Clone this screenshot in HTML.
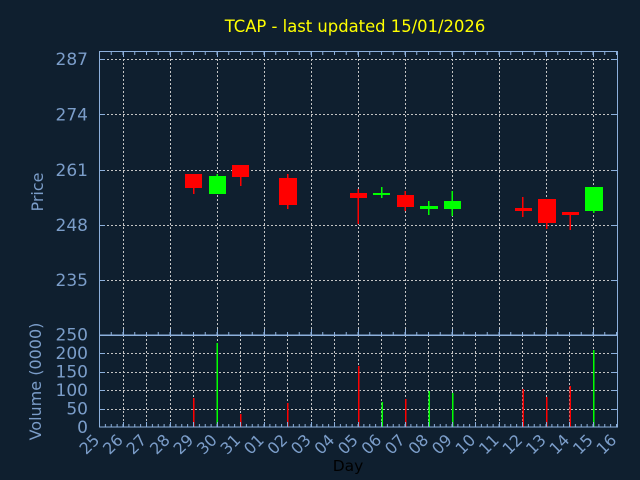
<!DOCTYPE html>
<html>
<head>
<meta charset="utf-8">
<style>
html,body{margin:0;padding:0;background:#0f1f2f;}
svg{display:block;}
text{font-family:"DejaVu Sans","Liberation Sans",sans-serif;}
</style>
</head>
<body>
<svg width="640" height="480" viewBox="0 0 640 480" xmlns="http://www.w3.org/2000/svg">
<defs>
  <pattern id="tkTop" patternUnits="userSpaceOnUse" x="99" y="0" width="11.75" height="480">
    <rect x="0" y="0" width="1" height="480" fill="#8db0dc"/>
  </pattern>
  <pattern id="tkBot" patternUnits="userSpaceOnUse" x="99" y="0" width="5.875" height="480">
    <rect x="0" y="0" width="1" height="480" fill="#8db0dc"/>
  </pattern>
</defs>
<rect width="640" height="480" fill="#0f1f2f"/>

<!-- Title -->
<text x="355" y="32" font-size="16.4" fill="#ffff00" text-anchor="middle">TCAP - last updated 15/01/2026</text>

<!-- Price grid -->
<g stroke="#c4c4c4" stroke-width="1" stroke-dasharray="2,2" shape-rendering="crispEdges">
  <line x1="99" y1="59.5" x2="617" y2="59.5"/>
  <line x1="99" y1="114.5" x2="617" y2="114.5"/>
  <line x1="99" y1="170.5" x2="617" y2="170.5"/>
  <line x1="99" y1="225.5" x2="617" y2="225.5"/>
  <line x1="99" y1="280.5" x2="617" y2="280.5"/>
  <line x1="123.5" y1="51" x2="123.5" y2="335"/>
  <line x1="170.5" y1="51" x2="170.5" y2="335"/>
  <line x1="217.5" y1="51" x2="217.5" y2="335"/>
  <line x1="264.5" y1="51" x2="264.5" y2="335"/>
  <line x1="311.5" y1="51" x2="311.5" y2="335"/>
  <line x1="358.5" y1="51" x2="358.5" y2="335"/>
  <line x1="405.5" y1="51" x2="405.5" y2="335"/>
  <line x1="452.5" y1="51" x2="452.5" y2="335"/>
  <line x1="499.5" y1="51" x2="499.5" y2="335"/>
  <line x1="546.5" y1="51" x2="546.5" y2="335"/>
  <line x1="593.5" y1="51" x2="593.5" y2="335"/>
</g>

<!-- Volume grid -->
<g stroke="#c4c4c4" stroke-width="1" stroke-dasharray="2,2" shape-rendering="crispEdges">
  <line x1="99" y1="353.5" x2="617" y2="353.5"/>
  <line x1="99" y1="372.5" x2="617" y2="372.5"/>
  <line x1="99" y1="390.5" x2="617" y2="390.5"/>
  <line x1="99" y1="409.5" x2="617" y2="409.5"/>
  <line x1="123.5" y1="335" x2="123.5" y2="427"/>
  <line x1="146.5" y1="335" x2="146.5" y2="427"/>
  <line x1="170.5" y1="335" x2="170.5" y2="427"/>
  <line x1="193.5" y1="335" x2="193.5" y2="427"/>
  <line x1="217.5" y1="335" x2="217.5" y2="427"/>
  <line x1="240.5" y1="335" x2="240.5" y2="427"/>
  <line x1="264.5" y1="335" x2="264.5" y2="427"/>
  <line x1="287.5" y1="335" x2="287.5" y2="427"/>
  <line x1="311.5" y1="335" x2="311.5" y2="427"/>
  <line x1="334.5" y1="335" x2="334.5" y2="427"/>
  <line x1="358.5" y1="335" x2="358.5" y2="427"/>
  <line x1="381.5" y1="335" x2="381.5" y2="427"/>
  <line x1="405.5" y1="335" x2="405.5" y2="427"/>
  <line x1="428.5" y1="335" x2="428.5" y2="427"/>
  <line x1="452.5" y1="335" x2="452.5" y2="427"/>
  <line x1="475.5" y1="335" x2="475.5" y2="427"/>
  <line x1="499.5" y1="335" x2="499.5" y2="427"/>
  <line x1="522.5" y1="335" x2="522.5" y2="427"/>
  <line x1="546.5" y1="335" x2="546.5" y2="427"/>
  <line x1="569.5" y1="335" x2="569.5" y2="427"/>
  <line x1="593.5" y1="335" x2="593.5" y2="427"/>
</g>

<!-- Candles -->
<g shape-rendering="crispEdges">
  <!-- 29 red -->
  <rect x="193" y="174" width="1.5" height="20" fill="#ff0000"/>
  <rect x="185" y="174" width="17" height="14" fill="#ff0000"/>
  <!-- 30 green -->
  <rect x="216.5" y="174" width="1.5" height="20" fill="#00ff00"/>
  <rect x="209" y="176" width="17" height="18" fill="#00ff00"/>
  <!-- 31 red -->
  <rect x="240" y="165" width="1.5" height="21" fill="#ff0000"/>
  <rect x="232" y="165" width="17" height="12" fill="#ff0000"/>
  <!-- 02 red -->
  <rect x="287" y="174" width="1.5" height="35" fill="#ff0000"/>
  <rect x="279" y="178" width="18" height="27" fill="#ff0000"/>
  <!-- 05 red -->
  <rect x="357.5" y="189" width="1.5" height="35" fill="#ff0000"/>
  <rect x="350" y="193" width="17" height="5" fill="#ff0000"/>
  <!-- 06 green -->
  <rect x="381" y="187" width="1.5" height="11" fill="#00ff00"/>
  <rect x="373" y="193" width="17" height="2" fill="#00ff00"/>
  <!-- 07 red -->
  <rect x="404.5" y="191" width="1.5" height="20" fill="#ff0000"/>
  <rect x="397" y="195" width="17" height="12" fill="#ff0000"/>
  <!-- 08 green -->
  <rect x="428" y="201" width="1.5" height="14" fill="#00ff00"/>
  <rect x="420" y="206" width="18" height="3" fill="#00ff00"/>
  <!-- 09 green -->
  <rect x="451.5" y="191" width="1.5" height="25" fill="#00ff00"/>
  <rect x="444" y="201" width="17" height="8" fill="#00ff00"/>
  <!-- 12 red -->
  <rect x="522" y="197" width="1.5" height="20" fill="#ff0000"/>
  <rect x="515" y="208" width="17" height="3" fill="#ff0000"/>
  <!-- 13 red -->
  <rect x="546" y="199" width="1.5" height="30" fill="#ff0000"/>
  <rect x="538" y="199" width="18" height="24" fill="#ff0000"/>
  <!-- 14 red -->
  <rect x="569.5" y="212" width="1.5" height="18" fill="#ff0000"/>
  <rect x="562" y="212" width="17" height="3" fill="#ff0000"/>
  <!-- 15 green -->
  <rect x="593" y="187" width="1.5" height="26" fill="#00ff00"/>
  <rect x="585" y="187" width="18" height="24" fill="#00ff00"/>
</g>

<!-- Volume bars -->
<g shape-rendering="crispEdges">
  <rect x="193" y="398" width="1.5" height="29" fill="#ff0000"/>
  <rect x="216.5" y="343" width="1.5" height="84" fill="#00ff00"/>
  <rect x="240" y="414" width="1.5" height="13" fill="#ff0000"/>
  <rect x="287" y="403" width="1.5" height="24" fill="#ff0000"/>
  <rect x="358" y="366" width="1.5" height="61" fill="#ff0000"/>
  <rect x="381.5" y="402" width="1.5" height="25" fill="#00ff00"/>
  <rect x="405" y="399" width="1.5" height="28" fill="#ff0000"/>
  <rect x="428.5" y="391" width="1.5" height="36" fill="#00ff00"/>
  <rect x="452" y="393" width="1.5" height="34" fill="#00ff00"/>
  <rect x="522.5" y="389" width="1.5" height="38" fill="#ff0000"/>
  <rect x="546" y="397" width="1.5" height="30" fill="#ff0000"/>
  <rect x="569.5" y="386" width="1.5" height="41" fill="#ff0000"/>
  <rect x="593" y="350" width="1.5" height="77" fill="#00ff00"/>
</g>

<!-- Minor ticks -->
<rect x="99" y="52" width="518" height="3" fill="url(#tkTop)"/>
<rect x="99" y="332" width="518" height="3" fill="url(#tkTop)"/>
<rect x="99" y="424" width="518" height="3" fill="url(#tkBot)"/>

<!-- Major ticks -->
<g stroke="#8db0dc" stroke-width="1" shape-rendering="crispEdges">
  <path d="M123.5 51v6M170.5 51v6M217.5 51v6M264.5 51v6M311.5 51v6M358.5 51v6M405.5 51v6M452.5 51v6M499.5 51v6M546.5 51v6M593.5 51v6"/>
  <path d="M123.5 335v-6M170.5 335v-6M217.5 335v-6M264.5 335v-6M311.5 335v-6M358.5 335v-6M405.5 335v-6M452.5 335v-6M499.5 335v-6M546.5 335v-6M593.5 335v-6"/>
  <path d="M123.5 427v-5M146.5 427v-5M170.5 427v-5M193.5 427v-5M217.5 427v-5M240.5 427v-5M264.5 427v-5M287.5 427v-5M311.5 427v-5M334.5 427v-5M358.5 427v-5M381.5 427v-5M405.5 427v-5M428.5 427v-5M452.5 427v-5M475.5 427v-5M499.5 427v-5M522.5 427v-5M546.5 427v-5M569.5 427v-5M593.5 427v-5"/>
  <path d="M99 59.5h6M99 114.5h6M99 170.5h6M99 225.5h6M99 280.5h6M617 59.5h-6M617 114.5h-6M617 170.5h-6M617 225.5h-6M617 280.5h-6"/>
  <path d="M99 353.5h6M99 372.5h6M99 390.5h6M99 409.5h6M617 353.5h-6M617 372.5h-6M617 390.5h-6M617 409.5h-6"/>
</g>

<!-- Frames -->
<g fill="none" stroke="#8db0dc" stroke-width="1" shape-rendering="crispEdges">
  <rect x="99.5" y="51.5" width="518" height="283.5"/>
  <rect x="99.5" y="335.5" width="518" height="91.5"/>
</g>

<!-- Y labels price -->
<g font-size="17" fill="#7b9dc9" text-anchor="end">
  <text x="88" y="65">287</text>
  <text x="88" y="120.5">274</text>
  <text x="88" y="176">261</text>
  <text x="88" y="231">248</text>
  <text x="88" y="286">235</text>
</g>
<!-- Y labels volume -->
<g font-size="17" fill="#7b9dc9" text-anchor="end">
  <text x="88" y="340.5">250</text>
  <text x="88" y="359">200</text>
  <text x="88" y="377.5">150</text>
  <text x="88" y="396">100</text>
  <text x="88" y="414.5">50</text>
  <text x="88" y="433">0</text>
</g>

<!-- Axis titles -->
<text transform="translate(43,192) rotate(-90)" font-size="16" fill="#7b9dc9" text-anchor="middle">Price</text>
<text transform="translate(41,381.5) rotate(-90)" font-size="16" fill="#7b9dc9" text-anchor="middle">Volume (0000)</text>
<text x="348" y="471" font-size="15.5" fill="#000000" text-anchor="middle">Day</text>

<!-- X labels -->
<g font-size="16" fill="#7b9dc9" text-anchor="end">
  <text transform="translate(100.5,441) rotate(-45)">25</text>
  <text transform="translate(124,441) rotate(-45)">26</text>
  <text transform="translate(147.5,441) rotate(-45)">27</text>
  <text transform="translate(171,441) rotate(-45)">28</text>
  <text transform="translate(194.5,441) rotate(-45)">29</text>
  <text transform="translate(218,441) rotate(-45)">30</text>
  <text transform="translate(241.5,441) rotate(-45)">31</text>
  <text transform="translate(265,441) rotate(-45)">01</text>
  <text transform="translate(288.5,441) rotate(-45)">02</text>
  <text transform="translate(312,441) rotate(-45)">03</text>
  <text transform="translate(335.5,441) rotate(-45)">04</text>
  <text transform="translate(359,441) rotate(-45)">05</text>
  <text transform="translate(382.5,441) rotate(-45)">06</text>
  <text transform="translate(406,441) rotate(-45)">07</text>
  <text transform="translate(429.5,441) rotate(-45)">08</text>
  <text transform="translate(453,441) rotate(-45)">09</text>
  <text transform="translate(476.5,441) rotate(-45)">10</text>
  <text transform="translate(500,441) rotate(-45)">11</text>
  <text transform="translate(523.5,441) rotate(-45)">12</text>
  <text transform="translate(547,441) rotate(-45)">13</text>
  <text transform="translate(570.5,441) rotate(-45)">14</text>
  <text transform="translate(594,441) rotate(-45)">15</text>
  <text transform="translate(617.5,441) rotate(-45)">16</text>
</g>
</svg>
</body>
</html>
